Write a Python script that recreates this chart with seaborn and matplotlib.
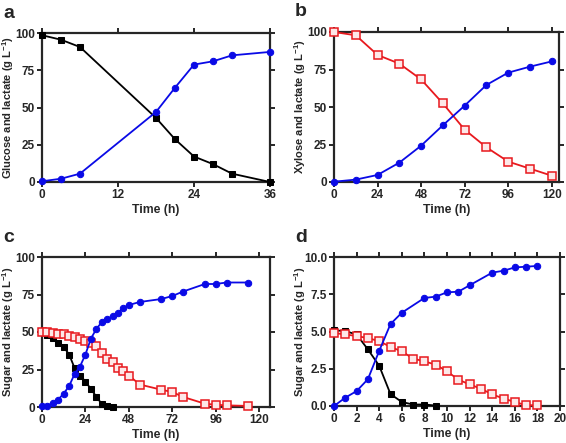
import numpy as np
import pandas as pd
import matplotlib
matplotlib.use("Agg")
import matplotlib.pyplot as plt
import seaborn as sns

# Panel a: glucose fermentation
time_a = [0, 3, 6, 18, 21, 24, 27, 30, 36]
glucose_a = [98.5, 95.5, 90.6, 43, 28.7, 17.1, 12, 5.6, 0]
lactate_a = [0.5, 2.2, 5.6, 47, 63.3, 78.8, 81, 85, 87.3]

# Panel b: xylose fermentation
time_b = [0, 12, 24, 36, 48, 60, 72, 84, 96, 108, 120]
xylose_b = [100, 97.8, 84.7, 78.9, 68.4, 52.4, 34.9, 23.1, 13.6, 8.9, 4.2]
lactate_b = [0.2, 1.6, 4.7, 12.9, 24.2, 37.8, 50.9, 64.7, 72.9, 76.9, 80.4]

# Panel c: mixed sugars
time_c_glc = [0, 3, 6, 9, 12, 15, 18, 21, 24, 27, 30, 33, 36, 39]
glucose_c = [50, 48, 46, 43, 40, 35, 26, 21, 17, 12, 7, 2, 1, 0.3]
time_c = [0, 3, 6, 9, 12, 15, 18, 21, 24, 27, 30, 33, 36, 39, 42, 45, 48, 54,
          66, 72, 78, 90, 96, 102, 114]
xylose_c = [50, 50, 49.5, 49, 48.5, 47.5, 46.5, 45.5, 44, 42.5, 40.5, 36, 32,
            30, 26, 24, 21, 15, 11.5, 10, 6.7, 2.2, 1.5, 1.1, 0.7]
lactate_c = [0.5, 1, 2.5, 5, 9, 14, 22, 27, 35, 45.5, 52, 56.5, 58.5, 60.5,
             63, 66, 68, 70, 72, 74, 77, 82, 82, 83, 83]

# Panel d: low concentration mixed sugars
time_d_glc = [0, 1, 2, 3, 4, 5, 6, 7, 8, 9]
glucose_d = [5.08, 5.03, 4.8, 3.8, 2.7, 0.8, 0.27, 0.1, 0.1, 0.03]
time_d = list(range(0, 19))
xylose_d = [4.9, 4.8, 4.7, 4.55, 4.36, 3.96, 3.67, 3.18, 3.0, 2.77, 2.33, 1.77,
            1.45, 1.16, 0.78, 0.5, 0.27, 0.05, 0.05]
time_d_lac = [0, 1, 2, 3, 4, 5, 6, 8, 9, 10, 11, 12, 14, 15, 16, 17, 18]
lactate_d = [0, 0.56, 1.0, 1.8, 3.7, 5.5, 6.26, 7.25, 7.34, 7.63, 7.67, 8.1,
             8.95, 9.08, 9.3, 9.35, 9.4]

sns.set_style("ticks")
plt.rcParams["font.family"] = ["Liberation Sans", "DejaVu Sans"]
plt.rcParams["mathtext.default"] = "regular"

BLUE = "#0a0ae6"
RED = "#e8191e"
BLACK = "#000000"

fig = plt.figure(figsize=(5.66, 4.43), dpi=100)
W, H = 566, 443


def make_ax(left, top, right, bottom):
    return fig.add_axes([left / W, 1 - bottom / H, (right - left) / W, (bottom - top) / H])


def draw(ax, x, y, color, kind):
    if kind == "circle":
        sns.lineplot(x=x, y=y, ax=ax, color=color, lw=1.3, marker="o", ms=4.6,
                     mec=color, mfc=color, clip_on=False, zorder=3)
    elif kind == "square":
        sns.lineplot(x=x, y=y, ax=ax, color=color, lw=1.3, marker="s", ms=4.6,
                     mec=color, mfc=color, clip_on=False, zorder=3)
    else:
        sns.lineplot(x=x, y=y, ax=ax, color=color, lw=1.3, marker="s", ms=5.2,
                     mec=color, mfc="#fde8e8", mew=1.1, clip_on=False, zorder=3)


def style(ax, xlim, xticks, ylim, yticks, ylabel, letter, yfmt="{:g}"):
    ax.set_xlim(*xlim)
    ax.set_ylim(*ylim)
    ax.set_xticks(xticks)
    ax.set_yticks(yticks)
    ax.set_yticklabels([yfmt.format(v) for v in yticks])
    ax.set_xlabel("Time (h)", fontsize=8.8, fontweight="bold", labelpad=2)
    ax.set_ylabel(ylabel, fontsize=8, fontweight="bold")
    w_px = ax.get_position().width * W
    ax.yaxis.set_label_coords(-26 / w_px, 0.5)
    for s in ax.spines.values():
        s.set_linewidth(1.6)
        s.set_visible(True)
    ax.tick_params(direction="out", length=3.5, width=1.4, labelsize=8.5,
                   top=True, right=True, labeltop=False, labelright=False, pad=1.5)
    for lab in ax.get_xticklabels() + ax.get_yticklabels():
        lab.set_fontweight("bold")
    ax.text(-39 / w_px, 1.19, letter, transform=ax.transAxes, fontsize=14,
            fontweight="bold", va="top", ha="left")


# a
ax = make_ax(42, 33, 270, 182)
draw(ax, time_a, glucose_a, BLACK, "square")
draw(ax, time_a, lactate_a, BLUE, "circle")
style(ax, (0, 36), [0, 12, 24, 36], (0, 100), [0, 25, 50, 75, 100],
      "Glucose and lactate (g L$^{-1}$)", "a")

# b
ax = make_ax(334, 32, 559, 182)
draw(ax, time_b, xylose_b, RED, "open")
draw(ax, time_b, lactate_b, BLUE, "circle")
style(ax, (0, 124), [0, 24, 48, 72, 96, 120], (0, 100), [0, 25, 50, 75, 100],
      "Xylose and lactate (g L$^{-1}$)", "b")

# c
ax = make_ax(42, 257, 270, 407)
draw(ax, time_c_glc, glucose_c, BLACK, "square")
draw(ax, time_c, xylose_c, RED, "open")
draw(ax, time_c, lactate_c, BLUE, "circle")
style(ax, (0, 126), [0, 24, 48, 72, 96, 120], (0, 100), [0, 25, 50, 75, 100],
      "Sugar and lactate (g L$^{-1}$)", "c")

# d
ax = make_ax(334, 257, 560, 406)
draw(ax, time_d_glc, glucose_d, BLACK, "square")
draw(ax, time_d, xylose_d, RED, "open")
draw(ax, time_d_lac, lactate_d, BLUE, "circle")
style(ax, (0, 20), list(range(0, 21, 2)), (0, 10), [0, 2.5, 5, 7.5, 10],
      "Sugar and lactate (g L$^{-1}$)", "d", yfmt="{:.1f}")

fig.savefig("out.png", dpi=100)
